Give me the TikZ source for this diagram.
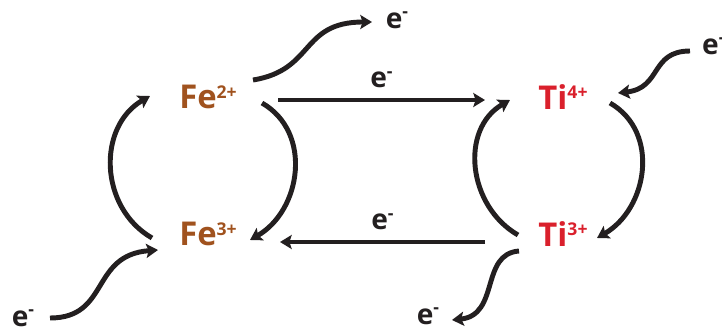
\documentclass[tikz,border=0pt]{standalone}
\usepackage{fontspec}
\setsansfont{Open Sans}
\usetikzlibrary{arrows.meta,calc}
\definecolor{ironbrown}{RGB}{160,82,30}
\definecolor{titanred}{RGB}{218,32,44}
\definecolor{inkblack}{RGB}{35,31,32}
\newcommand{\ionchg}[1]{\raisebox{9pt}{\fontsize{15}{15}\selectfont #1}}
\newcommand{\elchg}{\raisebox{9pt}{\fontsize{15}{15}\selectfont -}}
\begin{document}
\begin{tikzpicture}[x=0.03cm,y=-0.03cm,
  arr/.style={draw=inkblack,line width=4.2pt,-{Stealth[length=10pt,width=12pt,inset=2pt]}},
  ion/.style={font=\sffamily\bfseries\fontsize{28}{30}\selectfont,inner sep=0pt},
  elec/.style={font=\sffamily\bfseries\fontsize{24}{26}\selectfont,inner sep=0pt,text=inkblack}]
  \useasboundingbox (0,0) rectangle (722,333);
  \node[ion,text=ironbrown] (fe2) at (208,97) {Fe\ionchg{2+}};
  \node[ion,text=ironbrown] (fe3) at (208,234) {Fe\ionchg{3+}};
  \node[ion,text=titanred] (ti4) at (563,97) {Ti\ionchg{4+}};
  \node[ion,text=titanred] (ti3) at (563,234) {Ti\ionchg{3+}};
  \node[elec] (eA) at (397,20) {e\elchg};
  \node[elec] (eB) at (23,318) {e\elchg};
  \node[elec] (eC) at (428,316) {e\elchg};
  \node[elec,anchor=west] (eD) at (702,46) {e\elchg};
  \draw[arr] ($(fe3)+(-56,4)$) to[out=150,in=210,looseness=1.1] ($(fe2)+(-58,-1)$);
  \draw[arr] ($(fe2)+(54,6)$) to[out=-30,in=30,looseness=1.1] ($(fe3)+(42,6)$);
  \draw[arr] ($(ti3)+(-45,1)$) to[out=150,in=210,looseness=1.1] ($(ti4)+(-53,3)$);
  \draw[arr] ($(ti4)+(47,6)$) to[out=-30,in=30,looseness=1.1] ($(ti3)+(34,4)$);
  \draw[arr] ($(fe2)+(70,3)$) -- node[elec,above=8pt] (eT) {e\elchg} ($(ti4)+(-78,3)$);
  \draw[arr] ($(ti3)+(-78,8)$) -- node[elec,above=8pt] (eS) {e\elchg} ($(fe3)+(72,8)$);
  \draw[arr] ($(fe2)+(45,-17)$) .. controls +(62,-10) and +(-72,0) .. ($(eA)+(-25,2)$);
  \draw[arr] ($(eB)+(27,0)$) .. controls +(60,0) and +(-68,5) .. ($(fe3)+(-50,16)$);
  \draw[arr] ($(ti3)+(-44,17)$) .. controls +(-39,3) and +(48,-5) .. ($(eC)+(24,4)$);
  \draw[arr] ($(eD.west)+(-12,5)$) .. controls +(-40,0) and +(44,-5) .. ($(ti4)+(55,-4)$);
\end{tikzpicture}
\end{document}
